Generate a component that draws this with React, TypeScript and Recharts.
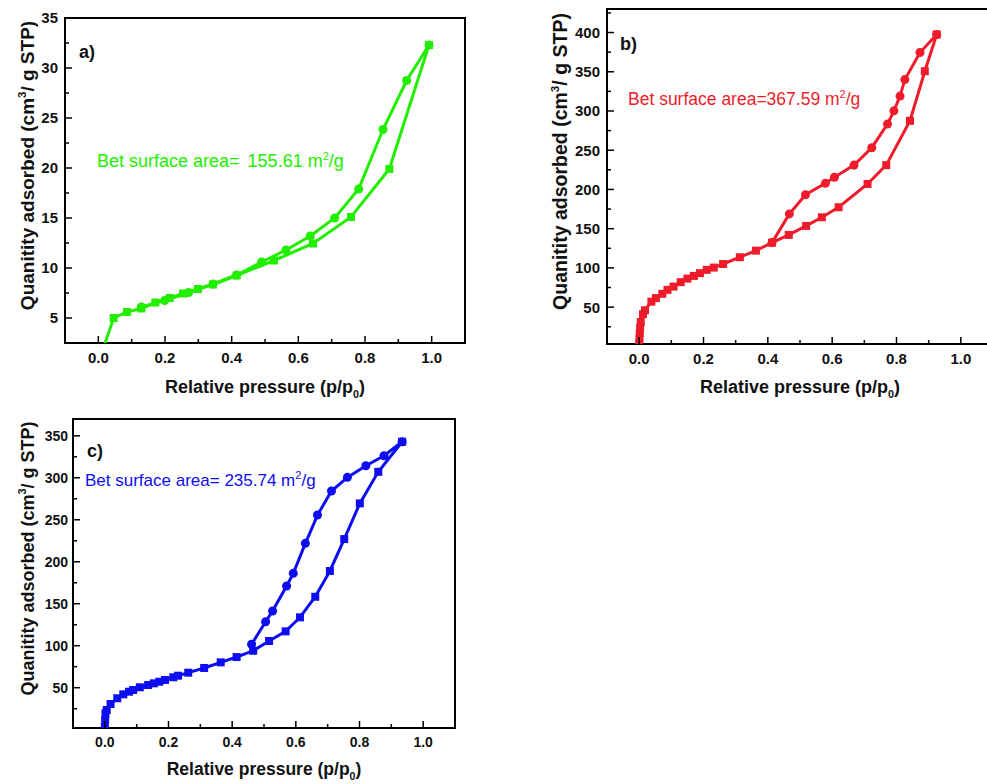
import React from "react";
import { ScatterChart, Scatter, XAxis, YAxis, ZAxis, ReferenceArea, Label } from "recharts";

// a) adsorption (squares) / desorption (circles)
const aAdsP = [0.01, 0.046, 0.086, 0.129, 0.171, 0.214, 0.254, 0.299, 0.344, 0.415, 0.527, 0.644, 0.758, 0.873, 0.992];
const aAdsQ = [1.5, 5.0, 5.6, 5.95, 6.55, 7.0, 7.45, 7.9, 8.35, 9.25, 10.75, 12.45, 15.1, 19.9, 32.3];
const aDesP = [0.992, 0.925, 0.854, 0.781, 0.709, 0.636, 0.563, 0.49, 0.415, 0.344, 0.271, 0.199, 0.129];
const aDesQ = [32.3, 28.75, 23.85, 17.9, 15.0, 13.2, 11.8, 10.6, 9.3, 8.4, 7.55, 6.75, 6.1];

// b)
const bAdsP = [0.0, 0.001, 0.002, 0.003, 0.005, 0.012, 0.018, 0.038, 0.052, 0.072, 0.088, 0.107, 0.129, 0.15, 0.17, 0.189, 0.21, 0.232, 0.261, 0.313, 0.363, 0.413, 0.465, 0.519, 0.568, 0.62, 0.71, 0.768, 0.842, 0.888, 0.925];
const bAdsQ = [4, 10, 17, 24, 31, 41, 46, 57, 61.5, 67, 72, 76.2, 81.8, 86.4, 89.8, 93.3, 97.5, 100.4, 105, 113.6, 122, 132.2, 142, 153.5, 164.5, 177.3, 207, 231, 287.5, 350.7, 397.5];
const bDesP = [0.925, 0.873, 0.826, 0.811, 0.792, 0.772, 0.723, 0.668, 0.607, 0.579, 0.517, 0.467, 0.413];
const bDesQ = [397.5, 374.5, 340, 319, 300.2, 283.3, 253.2, 231, 215.5, 207.8, 193.3, 168.8, 132.2];

// c)
const cAdsP = [0.0, 0.001, 0.002, 0.006, 0.018, 0.039, 0.058, 0.076, 0.089, 0.11, 0.136, 0.154, 0.171, 0.189, 0.215, 0.23, 0.262, 0.312, 0.364, 0.414, 0.466, 0.516, 0.568, 0.613, 0.661, 0.707, 0.752, 0.801, 0.859, 0.934];
const cAdsQ = [3.6, 11.5, 19.5, 23.5, 30.6, 37.4, 42.1, 45.2, 47.3, 50.5, 53.2, 55.2, 57.1, 59.2, 62.4, 64.3, 67.9, 73.5, 80.2, 86.5, 94, 105.6, 117.1, 133.8, 158.3, 189, 227, 269.5, 307.1, 342.9];
const cDesP = [0.934, 0.877, 0.82, 0.762, 0.712, 0.668, 0.63, 0.592, 0.571, 0.527, 0.505, 0.461];
const cDesQ = [342.9, 326.2, 314.3, 300.5, 284.2, 255.6, 221.9, 186.2, 171.1, 141.3, 128.6, 101.7];

// ticks
const xMajor = [0, 0.2, 0.4, 0.6, 0.8, 1.0];
const xMinor = [0.1, 0.3, 0.5, 0.7, 0.9];
const yMajorA = [5, 10, 15, 20, 25, 30, 35];
const yMinorA = [7.5, 12.5, 17.5, 22.5, 27.5, 32.5];
const yMajorB = [50, 100, 150, 200, 250, 300, 350, 400];
const yMinorB = [25, 75, 125, 175, 225, 275, 325, 375, 425];
const yMajorC = [50, 100, 150, 200, 250, 300, 350];
const yMinorC = [25, 75, 125, 175, 225, 275, 325];

const zip = (p: number[], q: number[]) => p.map((x, i) => ({ x, y: q[i] }));
const sortNum = (a: number[]) => [...a].sort((m, n) => m - n);

function XTick(props: any) {
  const { x, y, payload, major, fs, labelDy } = props;
  const isMajor = major.includes(payload.value);
  return (
    <g>
      <line x1={x} y1={y} x2={x} y2={y - (isMajor ? 7 : 4)} stroke="#000" strokeWidth={1.5} />
      {isMajor && (
        <text x={x} y={y + labelDy} textAnchor="middle" fontSize={fs} fontWeight="bold" fill="#111">
          {payload.value.toFixed(1)}
        </text>
      )}
    </g>
  );
}

function YTick(props: any) {
  const { x, y, payload, major, fs, gap } = props;
  const isMajor = major.includes(payload.value);
  return (
    <g>
      <line x1={x} y1={y} x2={x + (isMajor ? 7 : 4)} y2={y} stroke="#000" strokeWidth={1.5} />
      {isMajor && (
        <text x={x - gap} y={y} dy="0.36em" textAnchor="end" fontSize={fs} fontWeight="bold" fill="#111">
          {payload.value}
        </text>
      )}
    </g>
  );
}

function Panel(p: any) {
  const ads = zip(p.adsP, p.adsQ);
  const des = zip(p.desP, p.desQ);
  const xTitle = (lp: any) => {
    const vb = lp.viewBox;
    const fs = p.xTitleFs;
    return (
      <text x={vb.x + vb.width / 2} y={vb.y + p.xTitleDy} textAnchor="middle" fontSize={fs} fontWeight="bold" fill="#111">
        Relative pressure (p/p
        <tspan fontSize={fs * 0.6} dy={5}>0</tspan>
        <tspan dy={-5}>)</tspan>
      </text>
    );
  };
  const yTitle = (lp: any) => {
    const vb = lp.viewBox;
    const fs = p.yTitleFs;
    const cx = vb.x + p.yTitleX;
    const cy = vb.y + vb.height / 2 - 15;
    return (
      <text x={cx} y={cy} transform={`rotate(-90 ${cx} ${cy})`} textAnchor="middle" fontSize={fs} fontWeight="bold" fill="#111">
        Quanitity adsorbed (cm
        <tspan fontSize={fs * 0.6} dy={-8}>3</tspan>
        <tspan dy={8}>/ g STP)</tspan>
      </text>
    );
  };
  return (
    <div style={{ position: "absolute", left: p.left, top: p.top }}>
      <ScatterChart width={p.width} height={p.height} margin={p.margin}>
        <XAxis
          type="number"
          dataKey="x"
          domain={[-0.1, 1.1]}
          ticks={sortNum([...xMajor, ...xMinor])}
          interval={0}
          height={p.xHeight}
          tickSize={0}
          tickMargin={0}
          tickLine={false}
          axisLine={{ stroke: "#000", strokeWidth: 2 }}
          tick={(tp: any) => <XTick {...tp} major={xMajor} fs={p.tickFs} labelDy={p.xLabelDy} />}
        >
          <Label content={xTitle} />
        </XAxis>
        <YAxis
          type="number"
          dataKey="y"
          domain={p.yDomain}
          allowDataOverflow
          ticks={sortNum([...p.yMajor, ...p.yMinor])}
          interval={0}
          width={p.yWidth}
          tickSize={0}
          tickMargin={0}
          tickLine={false}
          axisLine={{ stroke: "#000", strokeWidth: 2 }}
          tick={(tp: any) => <YTick {...tp} major={p.yMajor} fs={p.tickFs} gap={p.yGap} />}
        >
          <Label content={yTitle} />
        </YAxis>
        <ZAxis range={[p.size, p.size]} />
        <ReferenceArea x1={-0.1} x2={1.1} y1={p.yDomain[0]} y2={p.yDomain[1]} fill="none" fillOpacity={0} stroke="#000" strokeWidth={2} ifOverflow="visible" />
        <Scatter
          data={ads}
          fill={p.color}
          shape="square"
          line={{ stroke: p.color, strokeWidth: 3 }}
          lineType="joint"
          isAnimationActive={false}
        />
        <Scatter
          data={des}
          fill={p.color}
          shape="circle"
          line={{ stroke: p.color, strokeWidth: 3 }}
          lineType="joint"
          isAnimationActive={false}
        />
      </ScatterChart>
    </div>
  );
}

export default function App() {
  return (
    <div style={{ position: "fixed", left: 0, top: 0, width: 987, height: 784, overflow: "hidden", background: "#fff", fontFamily: "'Liberation Sans', Arial, sans-serif" }}>
      <Panel
        left={0} top={0} width={480} height={400}
        margin={{ top: 18, right: 15, bottom: 0, left: 0 }}
        yWidth={65} xHeight={57}
        yDomain={[2.5, 35]} yMajor={yMajorA} yMinor={yMinorA}
        adsP={aAdsP} adsQ={aAdsQ} desP={aDesP} desQ={aDesQ}
        color="#22ee00" size={40}
        tickFs={15} yGap={7} xLabelDy={20}
        xTitleFs={18} xTitleDy={50} yTitleFs={19} yTitleX={34}
      />
      <Panel
        left={540} top={0} width={470} height={400}
        margin={{ top: 9, right: 17, bottom: 0, left: 0 }}
        yWidth={67} xHeight={56}
        yDomain={[3, 430]} yMajor={yMajorB} yMinor={yMinorB}
        adsP={bAdsP} adsQ={bAdsQ} desP={bDesP} desQ={bDesQ}
        color="#ee1c2a" size={50}
        tickFs={15} yGap={7} xLabelDy={20}
        xTitleFs={18} xTitleDy={49} yTitleFs={19.5} yTitleX={27}
      />
      <Panel
        left={0} top={400} width={470} height={384}
        margin={{ top: 19, right: 15, bottom: 0, left: 0 }}
        yWidth={73} xHeight={56}
        yDomain={[2, 370]} yMajor={yMajorC} yMinor={yMinorC}
        adsP={cAdsP} adsQ={cAdsQ} desP={cDesP} desQ={cDesQ}
        color="#0d0df0" size={50}
        tickFs={14} yGap={5} xLabelDy={18.5}
        xTitleFs={17.5} xTitleDy={47} yTitleFs={18} yTitleX={34}
      />
      <svg width={987} height={784} style={{ position: "absolute", left: 0, top: 0, pointerEvents: "none" }}>
        <text x={79} y={58} fontSize={18} fontWeight="bold" fill="#111">a)</text>
        <text x={97} y={166.5} fontSize={18} fill="#22ee00">
          Bet surface area=<tspan dx={3}> 155.61 m</tspan>
          <tspan fontSize={11} dy={-7}>2</tspan>
          <tspan dy={7}>/g</tspan>
        </text>
        <text x={620} y={50} fontSize={18} fontWeight="bold" fill="#111">b)</text>
        <text x={628} y={104.5} fontSize={17.5} fill="#ee1c2a">
          Bet surface area=367.59 m
          <tspan fontSize={11} dy={-7}>2</tspan>
          <tspan dy={7}>/g</tspan>
        </text>
        <text x={87} y={456.5} fontSize={18} fontWeight="bold" fill="#111">c)</text>
        <text x={85} y={486} fontSize={17} fill="#0d0df0">
          Bet surface area= 235.74 m
          <tspan fontSize={11} dy={-7}>2</tspan>
          <tspan dy={7}>/g</tspan>
        </text>
      </svg>
    </div>
  );
}
